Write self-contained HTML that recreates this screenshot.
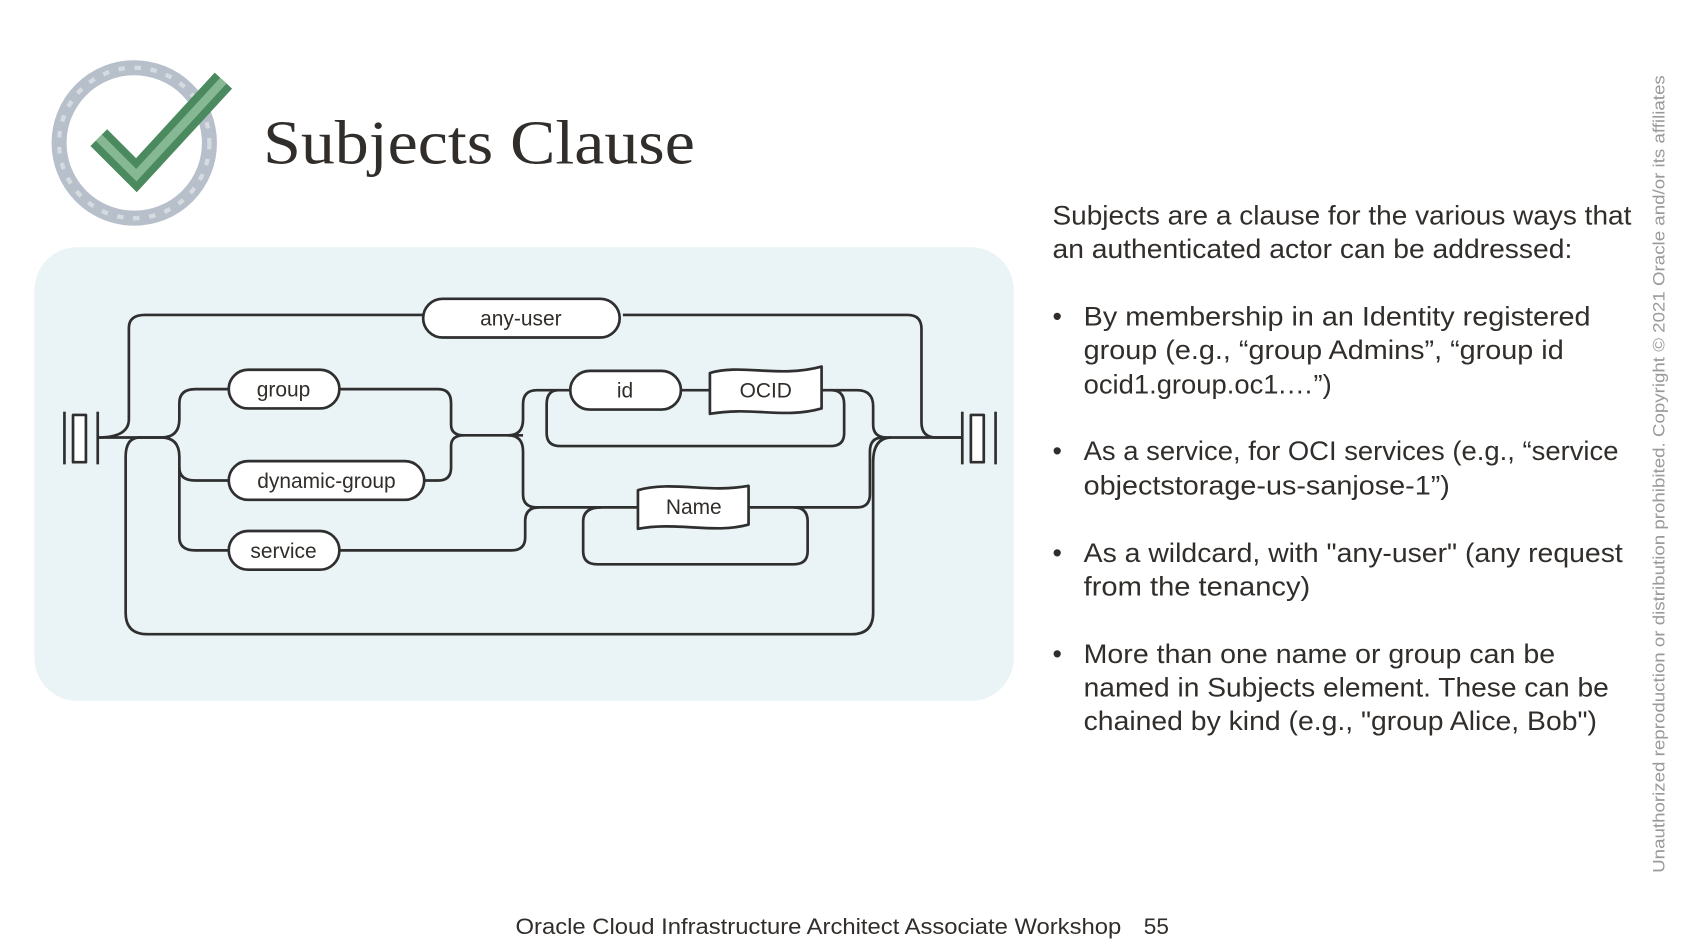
<!DOCTYPE html>
<html><head><meta charset="utf-8"><style>
html,body{margin:0;padding:0;background:#fff;width:1684px;height:947px;overflow:hidden}
svg{display:block}
text{font-family:"Liberation Sans",sans-serif;fill:#312d2a}
</style></head><body>
<svg width="1684" height="947" viewBox="0 0 1568 881" preserveAspectRatio="none">
<!-- icon -->
<circle cx="125" cy="133" r="70" fill="none" stroke="#b7bfca" stroke-width="14"/>
<circle cx="125" cy="133" r="70" fill="none" stroke="#d6dbe2" stroke-width="4" stroke-dasharray="6 9"/>
<polyline points="92,128 127,163 208,75" fill="none" stroke="#4b8a5f" stroke-width="22" stroke-linejoin="miter"/>
<polyline points="92,128 127,163 208,75" fill="none" stroke="#86b894" stroke-width="8" stroke-linejoin="miter"/>
<text x="245" y="152" style="font-family:'Liberation Serif',serif;font-size:58px" textLength="402" lengthAdjust="spacingAndGlyphs">Subjects Clause</text>
<!-- panel -->
<rect x="32" y="230" width="912" height="422" rx="40" fill="#eaf4f7"/>
<g fill="none" stroke="#2f2f2f" stroke-width="2.5" stroke-linejoin="round">
<line x1="60" y1="383" x2="60" y2="432"/><line x1="91" y1="383" x2="91" y2="432"/>
<rect x="68" y="386" width="12" height="44" fill="#fff"/>
<line x1="896" y1="383" x2="896" y2="432"/><line x1="927" y1="383" x2="927" y2="432"/>
<rect x="904" y="386" width="12" height="44" fill="#fff"/>
<path d="M91 407 H150"/>
<path d="M91 407 Q120 407 120 390 V305 Q120 293 135 293 H394"/>
<path d="M580 293 H845 Q858 293 858 306 V393 Q858 407 872 407 H896"/>
<path d="M150 407 H130 Q117 407 117 425 V570 Q117 590 137 590 H793 Q813 590 813 570 V430 Q813 407 830 407"/>
<path d="M150 407 Q167 407 167 390 V375 Q167 362 182 362 H213"/>
<path d="M150 407 Q167 407 167 425 V500 Q167 512 182 512 H213"/>
<path d="M167 435 Q167 447 182 447 H213"/>
<path d="M316 362 H408 Q420 362 420 375 V395 Q420 405 432 405 H487"/>
<path d="M395 447 H408 Q420 447 420 435 V415 Q420 405 432 405"/>
<path d="M473 405 Q487 405 487 390 V376 Q487 363 500 363 H531"/>
<path d="M473 405 Q487 405 487 420 V460 Q487 472 500 472 H594"/>
<path d="M316 512 H476 Q489 512 489 500 V485 Q489 472 502 472"/>
<path d="M634 363 H661"/>
<path d="M765 363 H798 Q813 363 813 378 V395 Q813 407 826 407 H896"/>
<path d="M520 363 Q509 363 509 376 V403 Q509 415 522 415 H773 Q786 415 786 403 V376 Q786 363 774 363"/>
<path d="M697 472 H798 Q810 472 810 460 V420 Q810 407 822 407"/>
<path d="M560 472 Q543 472 543 485 V513 Q543 525 556 525 H739 Q752 525 752 513 V485 Q752 472 739 472"/>
<rect x="394" y="278" width="183" height="36" rx="18" fill="#fff"/>
<rect x="213" y="344" width="103" height="36" rx="18" fill="#fff"/>
<rect x="213" y="429" width="182" height="36" rx="18" fill="#fff"/>
<rect x="213" y="494" width="103" height="36" rx="18" fill="#fff"/>
<rect x="531" y="345" width="103" height="36" rx="18" fill="#fff"/>
<path d="M661 347 C690 338 725 352 765 341 V380 C730 390 700 378 661 385 Z" fill="#fff"/>
<path d="M594 456 C625 447 660 459 697 452 V488 C665 497 630 485 594 492 Z" fill="#fff"/>
</g>
<g style="font-size:19.5px" text-anchor="middle">
<text x="485" y="303">any-user</text>
<text x="264" y="369">group</text>
<text x="304" y="454">dynamic-group</text>
<text x="264" y="519">service</text>
<text x="582" y="370">id</text>
<text x="713" y="370">OCID</text>
<text x="646" y="478">Name</text>
</g>
<g style="font-size:25px">
<text x="980" y="209" textLength="539" lengthAdjust="spacingAndGlyphs">Subjects are a clause for the various ways that</text>
<text x="980" y="240" textLength="484" lengthAdjust="spacingAndGlyphs">an authenticated actor can be addressed:</text>
<text x="980" y="303">•</text>
<text x="1009" y="303" textLength="472" lengthAdjust="spacingAndGlyphs">By membership in an Identity registered</text>
<text x="1009" y="334" textLength="447" lengthAdjust="spacingAndGlyphs">group (e.g., “group Admins”, “group id</text>
<text x="1009" y="366" textLength="231" lengthAdjust="spacingAndGlyphs">ocid1.group.oc1.…”)</text>
<text x="980" y="428">•</text>
<text x="1009" y="428" textLength="498" lengthAdjust="spacingAndGlyphs">As a service, for OCI services (e.g., “service</text>
<text x="1009" y="460" textLength="341" lengthAdjust="spacingAndGlyphs">objectstorage-us-sanjose-1”)</text>
<text x="980" y="523">•</text>
<text x="1009" y="523" textLength="502" lengthAdjust="spacingAndGlyphs">As a wildcard, with "any-user" (any request</text>
<text x="1009" y="554" textLength="211" lengthAdjust="spacingAndGlyphs">from the tenancy)</text>
<text x="980" y="617">•</text>
<text x="1009" y="617" textLength="439" lengthAdjust="spacingAndGlyphs">More than one name or group can be</text>
<text x="1009" y="648" textLength="489" lengthAdjust="spacingAndGlyphs">named in Subjects element. These can be</text>
<text x="1009" y="679" textLength="478" lengthAdjust="spacingAndGlyphs">chained by kind (e.g., "group Alice, Bob")</text>
</g>
<text x="480" y="869" style="font-size:21px" textLength="564" lengthAdjust="spacingAndGlyphs">Oracle Cloud Infrastructure Architect Associate Workshop</text>
<text x="1065" y="869" style="font-size:21px">55</text>
<text transform="translate(1550,812) rotate(-90)" style="font-size:15.5px;fill:#9a9a9a" textLength="742" lengthAdjust="spacingAndGlyphs">Unauthorized reproduction or distribution prohibited. Copyright © 2021 Oracle and/or its affiliates</text>
</svg>
</body></html>
